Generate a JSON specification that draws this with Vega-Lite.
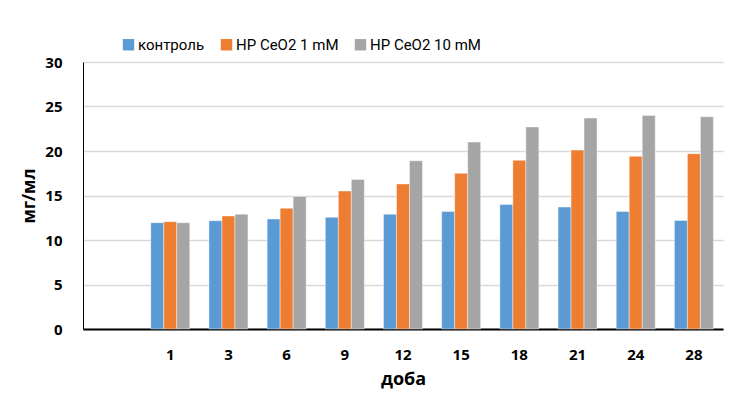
{
  "$schema": "https://vega.github.io/schema/vega-lite/v6.json",
  "width": 640,
  "height": 267,
  "autosize": {"type": "none"},
  "padding": {"left": 83, "top": 62, "right": 24, "bottom": 72},
  "background": "white",
  "config": {
    "font": "Open Sans",
    "view": {"stroke": null}
  },
  "data": {
    "values": [
      {"day": "1", "series": "контроль", "v": 11.95},
      {"day": "1", "series": "HP CeO2 1 mM", "v": 12.06},
      {"day": "1", "series": "HP CeO2 10 mM", "v": 11.95},
      {"day": "3", "series": "контроль", "v": 12.17},
      {"day": "3", "series": "HP CeO2 1 mM", "v": 12.7},
      {"day": "3", "series": "HP CeO2 10 mM", "v": 12.9},
      {"day": "6", "series": "контроль", "v": 12.36},
      {"day": "6", "series": "HP CeO2 1 mM", "v": 13.56},
      {"day": "6", "series": "HP CeO2 10 mM", "v": 14.9},
      {"day": "9", "series": "контроль", "v": 12.55},
      {"day": "9", "series": "HP CeO2 1 mM", "v": 15.5},
      {"day": "9", "series": "HP CeO2 10 mM", "v": 16.8},
      {"day": "12", "series": "контроль", "v": 12.9},
      {"day": "12", "series": "HP CeO2 1 mM", "v": 16.3},
      {"day": "12", "series": "HP CeO2 10 mM", "v": 18.9},
      {"day": "15", "series": "контроль", "v": 13.2},
      {"day": "15", "series": "HP CeO2 1 mM", "v": 17.5},
      {"day": "15", "series": "HP CeO2 10 mM", "v": 21.0},
      {"day": "18", "series": "контроль", "v": 14.0},
      {"day": "18", "series": "HP CeO2 1 mM", "v": 18.95},
      {"day": "18", "series": "HP CeO2 10 mM", "v": 22.7},
      {"day": "21", "series": "контроль", "v": 13.7},
      {"day": "21", "series": "HP CeO2 1 mM", "v": 20.1},
      {"day": "21", "series": "HP CeO2 10 mM", "v": 23.7},
      {"day": "24", "series": "контроль", "v": 13.2},
      {"day": "24", "series": "HP CeO2 1 mM", "v": 19.4},
      {"day": "24", "series": "HP CeO2 10 mM", "v": 24.0},
      {"day": "28", "series": "контроль", "v": 12.2},
      {"day": "28", "series": "HP CeO2 1 mM", "v": 19.7},
      {"day": "28", "series": "HP CeO2 10 mM", "v": 23.85}
    ]
  },
  "mark": {"type": "bar", "stroke": "white", "strokeOpacity": 0.6, "strokeWidth": 0.7},
  "encoding": {
    "x": {
      "field": "day",
      "type": "nominal",
      "scale": {"domain": [" ", "1", "3", "6", "9", "12", "15", "18", "21", "24", "28"], "paddingInner": 0.33, "paddingOuter": 0.165},
      "axis": {
        "title": "доба",
        "titleFontSize": 18,
        "titleFontWeight": "bold",
        "titleColor": "#000",
        "titlePadding": 8,
        "labelAngle": 0,
        "labelFontSize": 15,
        "labelFontWeight": "bold",
        "labelColor": "#000",
        "labelPadding": 18,
        "ticks": false,
        "domainColor": "#000",
        "domainWidth": 2,
        "grid": false
      }
    },
    "xOffset": {
      "field": "series",
      "type": "nominal",
      "sort": ["контроль", "HP CeO2 1 mM", "HP CeO2 10 mM"],
      "scale": {"paddingInner": 0, "paddingOuter": 0}
    },
    "y": {
      "field": "v",
      "type": "quantitative",
      "scale": {"domain": [0, 30]},
      "axis": {
        "title": "мг/мл",
        "titleFontSize": 17,
        "titleFontWeight": "bold",
        "titleColor": "#000",
        "titlePadding": 6,
        "values": [0, 5, 10, 15, 20, 25, 30],
        "labelFontSize": 15,
        "labelFontWeight": "bold",
        "labelColor": "#000",
        "labelPadding": 21,
        "ticks": false,
        "domainColor": "#000",
        "domainWidth": 1,
        "gridColor": "#d9d9d9",
        "gridWidth": 1.5
      }
    },
    "color": {
      "field": "series",
      "type": "nominal",
      "sort": ["контроль", "HP CeO2 1 mM", "HP CeO2 10 mM"],
      "scale": {"domain": ["контроль", "HP CeO2 1 mM", "HP CeO2 10 mM"], "range": ["#5b9bd5", "#ed7d31", "#a5a5a5"]},
      "legend": {
        "title": null,
        "orient": "none",
        "legendX": 38,
        "legendY": -25,
        "direction": "horizontal",
        "symbolType": "square",
        "symbolSize": 130,
        "symbolStrokeWidth": 0,
        "labelFont": "Roboto",
        "labelFontSize": 15,
        "labelColor": "#000",
        "labelOffset": 2,
        "columnPadding": 14
      }
    }
  }
}
